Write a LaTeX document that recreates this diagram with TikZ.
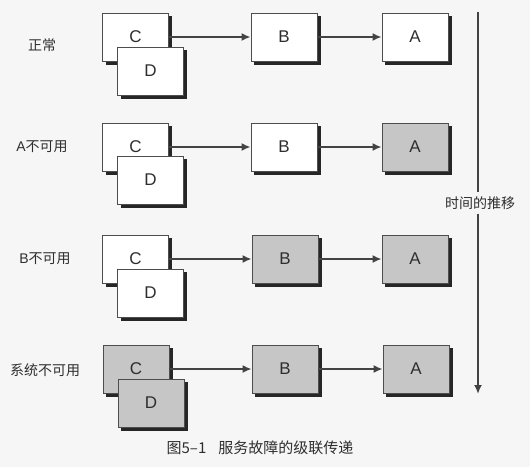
\documentclass[tikz,border=0pt]{standalone}
\usepackage{fontspec}
\setmainfont{Liberation Sans}
\newfontfamily\zhfont{Noto Sans CJK SC}
\usetikzlibrary{arrows.meta,backgrounds}
\definecolor{ink}{HTML}{2E2E2E}
\definecolor{failfill}{HTML}{C6C6C6}
\definecolor{paper}{HTML}{F6F6F6}
\tikzset{
  svc/.style={draw=ink!85, line width=0.8pt, fill=white, minimum width=66pt,
    minimum height=48pt, inner sep=0pt, text=ink, font=\fontsize{17}{17}\selectfont},
  down/.style={svc, fill=failfill},
  call/.style={draw=ink!90, line width=2.2pt, -{Latex[length=9pt,width=8pt]}},
  rowlabel/.style={text=ink, font=\zhfont\fontsize{14}{14}\selectfont, inner sep=0pt},
  boxshadow/.style={fill=black!85},
}
% shadow block under a service box, offset to the lower right
\newcommand\svcshadow[1]{%
  \fill[boxshadow] ([shift={(3.5,3.5)}]#1.north west) rectangle ([shift={(3.5,3.5)}]#1.south east);}
\begin{document}
\begin{tikzpicture}[x=1pt,y=-1pt]
  \useasboundingbox (0,0) rectangle (530,467);

  % row 1: everything healthy
  \node[rowlabel] (l1) at (42,45) {正常};
  \node[svc] (c1) at (135.5,37) {C};
  \node[svc] (d1) at (150.5,71) {D};
  \node[svc] (b1) at (284,37) {B};
  \node[svc] (a1) at (415,37) {A};
  \draw[call] (c1.east) -- (b1.west);
  \draw[call] (b1.east) -- (a1.west);

  % row 2: A fails
  \node[rowlabel] (l2) at (42,147) {\fontspec{Liberation Sans}A\zhfont 不可用};
  \node[svc] (c2) at (135.5,147) {C};
  \node[svc] (d2) at (150.5,180) {D};
  \node[svc] (b2) at (284,147) {B};
  \node[down] (a2) at (415,147) {A};
  \draw[call] (c2.east) -- (b2.west);
  \draw[call] (b2.east) -- (a2.west);

  % row 3: B fails as well
  \node[rowlabel] (l3) at (45,259) {\fontspec{Liberation Sans}B\zhfont 不可用};
  \node[svc] (c3) at (135.5,259) {C};
  \node[svc] (d3) at (150.5,293) {D};
  \node[down] (b3) at (285,259) {B};
  \node[down] (a3) at (415,259) {A};
  \draw[call] (c3.east) -- (b3.west);
  \draw[call] (b3.east) -- (a3.west);

  % row 4: the whole system is down
  \node[rowlabel] (l4) at (45,370) {系统不可用};
  \node[down] (c4) at (136,369) {C};
  \node[down] (d4) at (151,403) {D};
  \node[down] (b4) at (285,369) {B};
  \node[down] (a4) at (416,369) {A};
  \draw[call] (c4.east) -- (b4.west);
  \draw[call] (b4.east) -- (a4.west);

  % time axis
  \coordinate (t0) at (478,12);
  \coordinate (t1) at (478,394);
  \node[rowlabel, fill=paper, inner xsep=1pt, inner ysep=4pt] (tl) at (480,203) {时间的推移};
  \draw[draw=ink!90, line width=2.2pt] (t0) -- (tl.north -| t0);
  \draw[call] (tl.south -| t0) -- (t1);

  % caption
  \node[text=ink, font=\zhfont\fontsize{15}{15}\selectfont, inner sep=0pt] (cap) at (260,448)
    {图5–1\hspace{12pt}服务故障的级联传递};

  % paper and box shadows, behind everything
  \begin{scope}[on background layer]
    \fill[paper] (0,0) rectangle (530,467);
    \foreach \n in {c1,d1,b1,a1,c2,d2,b2,a2,c3,d3,b3,a3,c4,d4,b4,a4}
      {\svcshadow{\n}}
  \end{scope}
\end{tikzpicture}
\end{document}
